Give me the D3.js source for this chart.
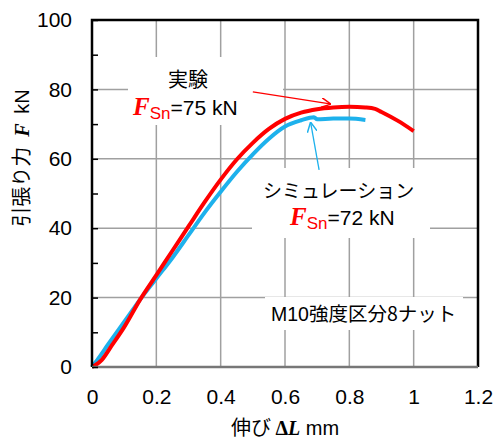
<!DOCTYPE html>
<html>
<head>
<meta charset="utf-8">
<script src="https://cdn.jsdelivr.net/npm/d3@7"></script>
<style>
  body { margin: 0; background: #fff; }
  text { font-family: "Liberation Sans", Arial, sans-serif; white-space: pre; }
  .jp { font-family: "Noto Sans CJK JP", sans-serif; }
</style>
</head>
<body>
<div id="chart"></div>
<script>
// experiment (red) : elongation mm / force kN
var expX = [0, 0.01, 0.03, 0.06, 0.1, 0.15, 0.2, 0.25, 0.3, 0.35, 0.4, 0.45, 0.5, 0.55, 0.6, 0.65, 0.7, 0.75, 0.8, 0.85, 0.88, 0.9, 0.95, 1.0];
var expF = [0, 0.5, 2, 6, 11.5, 19.5, 26.5, 33.5, 40.5, 47.5, 54, 59.8, 64.6, 68.6, 71.5, 73.3, 74.3, 74.8, 75, 74.8, 74.4, 73.5, 71, 68];
// simulation (blue)
var simX = [0, 0.02, 0.05, 0.1, 0.15, 0.2, 0.25, 0.3, 0.35, 0.4, 0.45, 0.5, 0.55, 0.6, 0.65, 0.69, 0.7, 0.75, 0.8, 0.85];
var simF = [0, 2.5, 6.5, 13, 19.5, 25.5, 31.5, 38, 44.5, 50.5, 56.2, 61.3, 65.8, 69.3, 71.1, 72, 71.4, 71.6, 71.6, 71.2];
var xTicks = [0, 0.2, 0.4, 0.6, 0.8, 1, 1.2];
var yTicks = [0, 20, 40, 60, 80, 100];
var yMinor = [10, 30, 50, 70, 90];

var svgWidth = 496;
var svgHeight = 441;
var margin = { top: 20, right: 18, bottom: 74, left: 92 };
var width = svgWidth - margin.left - margin.right;
var height = svgHeight - margin.top - margin.bottom;

var svg = d3.select("#chart")
    .append("svg")
    .attr("width", svgWidth)
    .attr("height", svgHeight);

var chartGroup = svg.append("g")
    .attr("transform", `translate(${margin.left}, ${margin.top})`);

var x = d3.scaleLinear().domain([0, 1.2]).range([0, width]);
var y = d3.scaleLinear().domain([0, 100]).range([height, 0]);

// gridlines
chartGroup.append("g")
  .selectAll("line.vg")
  .data(xTicks.slice(1, -1))
  .enter().append("line")
  .attr("x1", d => x(d)).attr("x2", d => x(d))
  .attr("y1", 0).attr("y2", height)
  .attr("stroke", "#a0a0a0").attr("stroke-width", 1.5);
chartGroup.append("g")
  .selectAll("line.hg")
  .data(yTicks.slice(1, -1))
  .enter().append("line")
  .attr("x1", 0).attr("x2", width)
  .attr("y1", d => y(d)).attr("y2", d => y(d))
  .attr("stroke", "#a0a0a0").attr("stroke-width", 1.5);

// white boxes behind the labels
var boxes = [[128 - 92, 57 - 20, 155, 68], [252 - 92, 168 - 20, 178, 70], [265 - 92, 297 - 20, 198, 33]];
chartGroup.selectAll("rect.box")
  .data(boxes)
  .enter().append("rect")
  .attr("x", d => d[0]).attr("y", d => d[1])
  .attr("width", d => d[2]).attr("height", d => d[3])
  .attr("fill", "#fff");

// curves
var line = d3.line().x(d => x(d[0])).y(d => y(d[1])).curve(d3.curveMonotoneX);
chartGroup.append("path")
  .datum(simX.map((v, i) => [v, simF[i]]))
  .attr("d", line)
  .attr("fill", "none")
  .attr("stroke", "#1db1ec")
  .attr("stroke-width", 4)
  .attr("stroke-linejoin", "round");
chartGroup.append("path")
  .datum(expX.map((v, i) => [v, expF[i]]))
  .attr("d", line)
  .attr("fill", "none")
  .attr("stroke", "#ff0000")
  .attr("stroke-width", 4)
  .attr("stroke-linejoin", "round");

// frame
chartGroup.append("path")
  .attr("d", `M0,${height}V0H${width}V${height}`)
  .attr("fill", "none").attr("stroke", "#000").attr("stroke-width", 2.5);
chartGroup.append("line")
  .attr("x1", 0).attr("x2", width).attr("y1", height).attr("y2", height)
  .attr("stroke", "#777").attr("stroke-width", 2.5);

// axes
var leftAxis = d3.axisLeft(y).tickValues(yTicks).tickSize(0).tickPadding(20);
chartGroup.append("g").call(leftAxis)
  .call(g => g.select(".domain").remove())
  .selectAll("text").attr("font-size", "21px").attr("fill", "#000")
  .style("font-family", "'Liberation Sans', Arial, sans-serif");
var minorAxis = d3.axisRight(y).tickValues(yTicks.concat(yMinor)).tickSize(6).tickFormat("");
chartGroup.append("g").call(minorAxis)
  .call(g => g.select(".domain").remove())
  .selectAll("line").attr("stroke", "#000").attr("stroke-width", 1.5);

var bottomAxis = d3.axisBottom(x).tickValues(xTicks).tickSize(0).tickPadding(22).tickFormat(d3.format("~g"));
chartGroup.append("g")
  .attr("transform", `translate(0, ${height})`)
  .call(bottomAxis)
  .call(g => g.select(".domain").remove())
  .selectAll("text").attr("font-size", "21px").attr("fill", "#000")
  .style("font-family", "'Liberation Sans', Arial, sans-serif");

// arrows
svg.append("defs").selectAll("marker")
  .data([["ar", "#ff0000"], ["ab", "#1db1ec"]])
  .enter().append("marker")
  .attr("id", d => d[0])
  .attr("viewBox", "0 0 10 10").attr("refX", 9).attr("refY", 5)
  .attr("markerWidth", 10).attr("markerHeight", 10)
  .attr("markerUnits", "userSpaceOnUse")
  .attr("orient", "auto")
  .append("path").attr("d", "M0,0L10,5L0,10")
  .attr("fill", "none").attr("stroke", d => d[1]).attr("stroke-width", 1.5);
var arrows = [[0.5, 79.3, 0.74, 75.8, "#ff0000", "ar"], [0.706, 56.8, 0.68, 70.3, "#1db1ec", "ab"]];
chartGroup.selectAll("line.arrow")
  .data(arrows)
  .enter().append("line")
  .attr("x1", d => x(d[0])).attr("y1", d => y(d[1]))
  .attr("x2", d => x(d[2])).attr("y2", d => y(d[3]))
  .attr("stroke", d => d[4]).attr("stroke-width", 1.3)
  .attr("marker-end", d => `url(#${d[5]})`);

// labels
function fsn(g, px, py, rest) {
  var t = g.append("text").attr("x", px).attr("y", py).attr("font-size", "21px").attr("fill", "#000");
  t.append("tspan").text("F")
    .style("font-family", "'Liberation Serif', serif")
    .attr("font-weight", "bold").attr("font-style", "italic")
    .attr("font-size", "25px").attr("fill", "#ff0000");
  t.append("tspan").text("Sn").attr("dy", 4).attr("font-size", "17px").attr("fill", "#ff0000");
  t.append("tspan").text(rest).attr("dy", -4);
}
svg.append("text").attr("class", "jp").attr("x", 168).attr("y", 87)
  .attr("font-size", "20px").text("実験");
fsn(svg, 133, 115, "=75 kN");
svg.append("text").attr("class", "jp").attr("x", 263).attr("y", 198)
  .attr("font-size", "19px").text("シミュレーション");
fsn(svg, 290, 225, "=72 kN");
svg.append("text").attr("x", 271).attr("y", 321)
  .attr("font-size", "19.5px")
  .call(t => t.append("tspan").text("M10"))
  .call(t => t.append("tspan").attr("class", "jp").text("強度区分8ナット"));

// axis titles
var xt = svg.append("text")
  .attr("x", 285).attr("y", 435)
  .attr("text-anchor", "middle").attr("font-size", "20px");
xt.append("tspan").attr("class", "jp").text("伸び ");
xt.append("tspan").text("Δ").attr("font-weight", "bold").style("font-family", "'Liberation Serif', serif");
xt.append("tspan").text("L").attr("font-weight", "bold").attr("font-style", "italic").style("font-family", "'Liberation Serif', serif");
xt.append("tspan").text(" mm");

var yt = svg.append("text")
  .attr("transform", "translate(29, 158) rotate(-90)")
  .attr("text-anchor", "middle").attr("font-size", "20px");
yt.append("tspan").attr("class", "jp").text("引張り力");
yt.append("tspan").text("  F  ").attr("font-weight", "bold").attr("font-style", "italic").style("font-family", "'Liberation Serif', serif");
yt.append("tspan").text("kN");
</script>
</body>
</html>
